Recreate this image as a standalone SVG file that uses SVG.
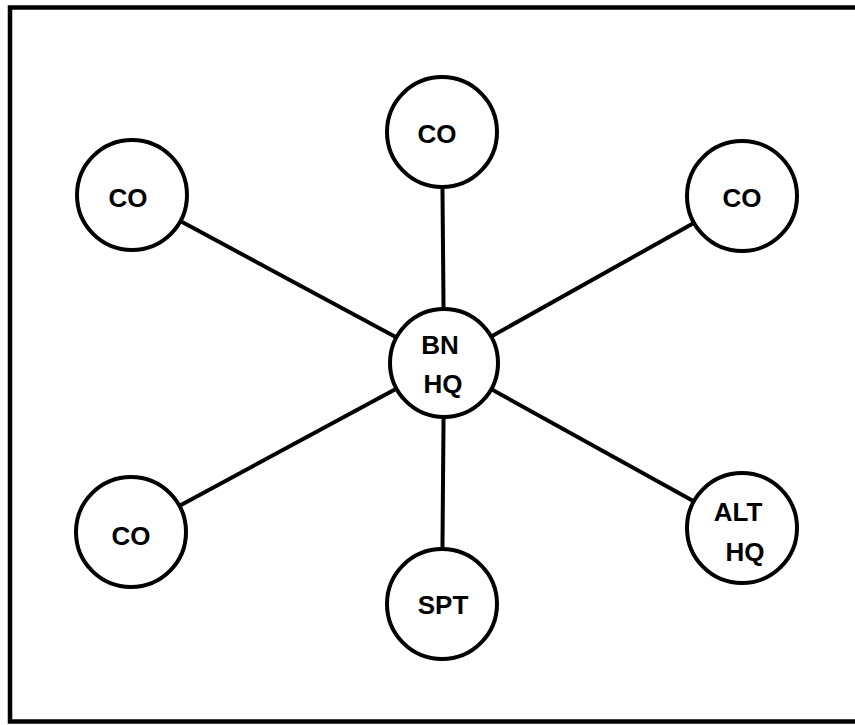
<svg xmlns="http://www.w3.org/2000/svg" width="855" height="725" viewBox="0 0 855 725">
<style>
.frame{fill:none;stroke:#000;stroke-width:4.5}
.node circle{fill:#fff;stroke:#000;stroke-width:4}
.node text{font-family:"Liberation Sans",Arial,sans-serif;font-weight:bold;font-size:26px;fill:#000;text-anchor:middle}
#connectors line{stroke:#000;stroke-width:4}
</style>
<rect width="855" height="725" fill="#fff"/>
<path class="frame" d="M860,7.5 H10 V721.5 H860"/>
<g id="connectors">
<line x1="444" y1="363" x2="442" y2="132"/>
<line x1="444" y1="363" x2="132" y2="195"/>
<line x1="444" y1="363" x2="742" y2="196"/>
<line x1="444" y1="363" x2="131" y2="532"/>
<line x1="444" y1="363" x2="442" y2="604"/>
<line x1="444" y1="363" x2="742" y2="528"/>
</g>
<g id="node-bn-hq" class="node">
<circle cx="444" cy="363" r="54"/>
<text x="440" y="354">BN</text>
<text x="443" y="393">HQ</text>
</g>
<g id="node-co-top" class="node">
<circle cx="442" cy="132" r="55"/>
<text x="437" y="143">CO</text>
</g>
<g id="node-co-top-left" class="node">
<circle cx="132" cy="195" r="55"/>
<text x="128" y="207">CO</text>
</g>
<g id="node-co-top-right" class="node">
<circle cx="742" cy="196" r="55"/>
<text x="742" y="207">CO</text>
</g>
<g id="node-co-bottom-left" class="node">
<circle cx="131" cy="532" r="55"/>
<text x="131" y="545">CO</text>
</g>
<g id="node-spt" class="node">
<circle cx="442" cy="604" r="55"/>
<text x="443" y="614">SPT</text>
</g>
<g id="node-alt-hq" class="node">
<circle cx="742" cy="528" r="55"/>
<text x="738" y="521">ALT</text>
<text x="745" y="561">HQ</text>
</g>
</svg>
